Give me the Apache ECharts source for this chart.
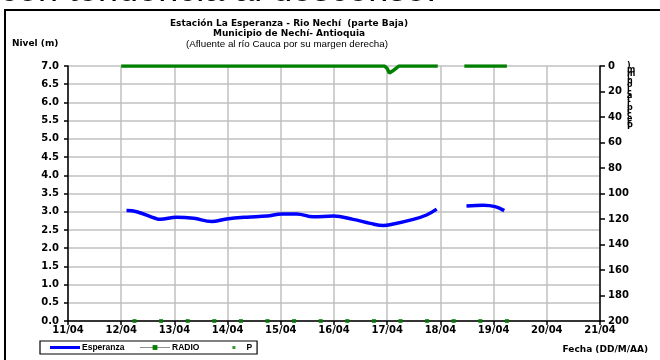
<!DOCTYPE html>
<html>
<head>
<meta charset="utf-8">
<script src="https://cdn.jsdelivr.net/npm/echarts@6/dist/echarts.min.js"></script>
<style>
html,body{margin:0;padding:0;background:#fff;}
#EchartDiv{width:660px;height:360px;}
</style>
</head>
<body>
<div id="EchartDiv"></div>
<script>
// dias (abril) y niveles
var arrEsperanza = [
	[12.10,3.03],[12.29,3.00],[12.64,2.82],[12.73,2.79],[13.04,2.85],[13.36,2.82],
	[13.70,2.73],[13.98,2.80],[14.36,2.85],[14.74,2.88],[15.02,2.94],[15.30,2.94],
	[15.61,2.86],[15.99,2.88],[16.36,2.79],[16.68,2.68],[16.93,2.62],[17.05,2.64],
	[17.49,2.79],[17.74,2.91],[17.93,3.07],[18.20,'-'],
	[18.49,3.16],[18.81,3.18],[19.03,3.14],[19.20,3.03]
];
// precipitacion radio (mm), eje derecho invertido
var arrRadio = [
	[12.00,0],[16.95,0],[17.00,2],[17.04,5.5],[17.10,4],[17.16,2],[17.22,0],[17.95,0],[18.20,'-'],
	[18.45,0],[19.25,0]
];
var arrP = [
	[12.25,0],[12.75,0],[13.25,0],[13.75,0],[14.25,0],[14.75,0],[15.25,0],[15.75,0],
	[16.25,0],[16.75,0],[17.25,0],[17.75,0],[18.25,0],[18.75,0],[19.25,0]
];
var txtTitulo1 = 'Estación La Esperanza - Rio Nechí  (parte Baja)';
var txtTitulo2 = 'Municipio de Nechí- Antioquia';
var txtTitulo3 = '(Afluente al río Cauca por su margen derecha)';
var txtEjeDer  = ')\nm\nm\n(\nn\no\ni\nc\na\nt\ni\np\ni\nc\ne\nr\nP';

var fnt  = 'DejaVu Sans, Verdana, sans-serif';
var fnt2 = 'Liberation Sans, Arial, sans-serif';
var myChart = echarts.init(document.getElementById('EchartDiv'));

option = {
	animation:false,
	textStyle:{fontFamily:fnt},
	grid:{
		left:68,
		right:60,
		top:66,
		bottom:39
	},
	graphic:[
		{type:'rect',shape:{x:5,y:10,width:700,height:400},style:{fill:'none',stroke:'#000',lineWidth:2},silent:true},
		{type:'text',x:0,y:-9.3,style:{text:'con tendencia al descenso.',font:'36px '+fnt2,fill:'#000',verticalAlign:'middle'}},
		{type:'text',x:289,y:24,style:{text:txtTitulo1,font:'bold 9px '+fnt,fill:'#000',align:'center',verticalAlign:'middle'}},
		{type:'text',x:289,y:34,style:{text:txtTitulo2,font:'bold 9px '+fnt,fill:'#000',align:'center',verticalAlign:'middle'}},
		{type:'text',x:287,y:44,style:{text:txtTitulo3,font:'9.8px '+fnt2,fill:'#000',align:'center',verticalAlign:'middle'}},
		{type:'text',x:12,y:44,style:{text:'Nivel (m)',font:'bold 9px '+fnt,fill:'#000',verticalAlign:'middle'}},
		{type:'text',x:627,y:64,style:{text:txtEjeDer,font:'bold 8px '+fnt,fill:'#000',lineHeight:3.8}},
		{type:'text',x:648,y:350,style:{text:'Fecha (DD/M/AA)',font:'bold 9px '+fnt,fill:'#000',align:'right',verticalAlign:'middle'}}
	],
	legend:{
		left:40,
		top:341,
		padding:[2,5,2,10],
		itemGap:15,
		itemWidth:30,
		itemHeight:6,
		borderColor:'#000',
		borderWidth:1.2,
		textStyle:{fontSize:8.5,fontWeight:'bold',color:'#000',fontFamily:fnt2,padding:[0,0,0,-3]},
		data:[
			{name:'Esperanza',icon:'path://M0,0M30,6M0,1.5h30v3h-30z'},
			{name:'RADIO',lineStyle:{color:'#909090',width:1}},
			{name:'P',icon:'path://M0,0M30,6M18,1.5h3v3h-3z'}
		]
	},
	xAxis:[
		{
			type:'value',
			min:11,
			max:21,
			interval:1,
			axisLine:{lineStyle:{color:'#000',width:1.5}},
			axisTick:{length:4,lineStyle:{color:'#000',width:1.5}},
			splitLine:{show:true,lineStyle:{color:'#c0c0c0',width:1.5}},
			axisLabel:{
				color:'#000',fontSize:10,fontWeight:'bold',margin:4,
				formatter:function(v){return (v<10?'0'+v:v)+'/04';}
			}
		}
	],
	yAxis:[
		{
			type:'value',
			min:0,
			max:7,
			interval:0.5,
			axisLine:{show:true,lineStyle:{color:'#000',width:1.5}},
			axisTick:{show:true,length:4,lineStyle:{color:'#000',width:1.5}},
			splitLine:{show:true,lineStyle:{color:'#c0c0c0',width:1.5}},
			axisLabel:{
				color:'#000',fontSize:10,fontWeight:'bold',margin:9,
				formatter:function(v){return v.toFixed(1);}
			}
		},
		{
			type:'value',
			min:0,
			max:200,
			interval:20,
			inverse:true,
			position:'right',
			axisLine:{show:true,lineStyle:{color:'#000',width:1.5}},
			axisTick:{show:true,length:5,lineStyle:{color:'#000',width:1.5}},
			splitLine:{show:false},
			axisLabel:{color:'#000',fontSize:10,fontWeight:'bold',margin:8}
		}
	],
	series:[
		{
			name:'Esperanza',
			type:'line',
			yAxisIndex:0,
			data:arrEsperanza,
			smooth:0.4,
			symbol:'none',
			connectNulls:false,
			itemStyle:{color:'#0000ff'},
			lineStyle:{color:'#0000ff',width:3.5},
			z:5
		},
		{
			name:'RADIO',
			type:'line',
			yAxisIndex:1,
			data:arrRadio,
			symbol:'rect',
			symbolSize:4,
			showSymbol:false,
			connectNulls:false,
			itemStyle:{color:'#008000'},
			lineStyle:{color:'#008000',width:3.5},
			z:4
		},
		{
			name:'P',
			type:'scatter',
			yAxisIndex:0,
			data:arrP,
			symbol:'rect',
			symbolSize:4,
			itemStyle:{color:'#008000'},
			z:6
		}
	]
};
myChart.setOption(option);
</script>
</body>
</html>
